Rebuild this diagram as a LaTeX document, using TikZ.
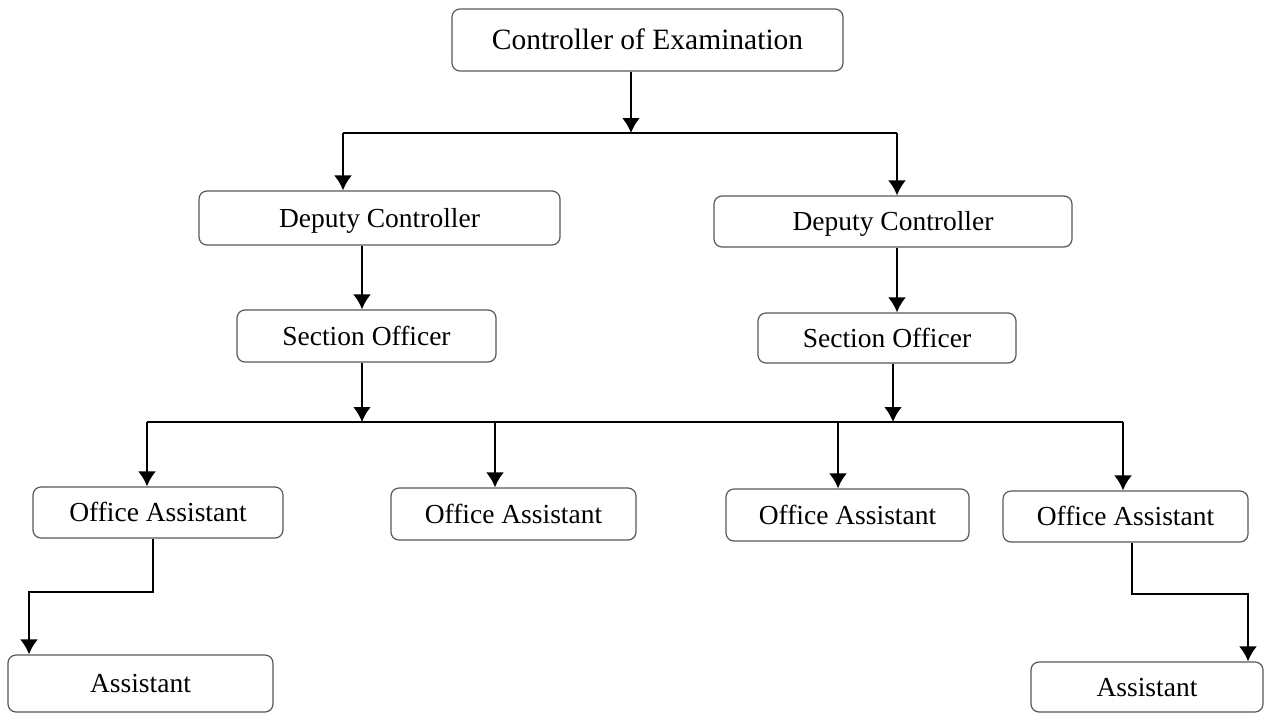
\documentclass[tikz,border=0pt]{standalone}
\usepackage{fontspec}
\setmainfont{Liberation Serif}
\usetikzlibrary{arrows.meta, math}
\tikzset{
  box/.style={draw=black!65, line width=1.2pt, rounded corners=8pt, fill=white,
    inner sep=0pt, text height=23pt, text depth=5pt,
    font=\fontsize{27.5}{30}\selectfont},
  arr/.style={-{Latex[length=15pt,width=18pt]}, line width=2.5pt},
  bar/.style={line width=1.7pt}
}
\begin{document}
\begin{tikzpicture}[x=1pt,y=-1pt]
\tikzmath{
\ytop=133;
\ybot=422;
\yleft=592;
\yright=594;
}
\useasboundingbox[fill=white] (0,0) rectangle (1266,713);

%boxes
\node[box, minimum width=391pt, minimum height=62pt, text height=24.5pt, font=\fontsize{29.5}{32}\selectfont] (coe) at (647.5,40) {Controller of Examination};
\node[box, minimum width=361pt, minimum height=54pt] (dc1) at (379.5,218) {Deputy Controller};
\node[box, minimum width=358pt, minimum height=51pt] (dc2) at (893,221.5) {Deputy Controller};
\node[box, minimum width=259pt, minimum height=52pt] (so1) at (366.5,336) {Section Officer};
\node[box, minimum width=258pt, minimum height=50pt] (so2) at (887,338) {Section Officer};
\node[box, minimum width=250pt, minimum height=51pt] (oa1) at (158,512.5) {Office Assistant};
\node[box, minimum width=245pt, minimum height=52pt] (oa2) at (513.5,514) {Office Assistant};
\node[box, minimum width=243pt, minimum height=52pt] (oa3) at (847.5,515) {Office Assistant};
\node[box, minimum width=245pt, minimum height=51pt] (oa4) at (1125.5,516.5) {Office Assistant};
\node[box, minimum width=265pt, minimum height=57pt] (as1) at (140.5,683.5) {Assistant};
\node[box, minimum width=232pt, minimum height=50pt] (as2) at (1147,687) {Assistant};

%junctions
\coordinate (j0) at (631,\ytop);
\coordinate (t1) at (343,\ytop);
\coordinate (t2) at (897,\ytop);
\coordinate (b1) at (362,\ybot);
\coordinate (b2) at (893,\ybot);
\coordinate (d1) at (147,\ybot);
\coordinate (d2) at (495,\ybot);
\coordinate (d3) at (838,\ybot);
\coordinate (d4) at (1123,\ybot);
\coordinate (e1) at (29,\yleft);
\coordinate (e2) at (1248,\yright);

%top level
\draw[arr] (coe.south -| j0) -- (j0);
\draw[bar] (t1) -- (t2);
\draw[arr] (t1) -- (t1 |- dc1.north);
\draw[arr] (t2) -- (t2 |- dc2.north);

%deputies to section officers
\draw[arr] (dc1.south -| b1) -- (so1.north -| b1);
\draw[arr] (dc2.south -| t2) -- (so2.north -| t2);
\draw[arr] (so1.south -| b1) -- (b1);
\draw[arr] (so2.south -| b2) -- (b2);

%office assistants
\draw[bar] (d1) -- (d4);
\draw[arr] (d1) -- (d1 |- oa1.north);
\draw[arr] (d2) -- (d2 |- oa2.north);
\draw[arr] (d3) -- (d3 |- oa3.north);
\draw[arr] (d4) -- (d4 |- oa4.north);

%assistants
\draw[arr] ([xshift=-5pt]oa1.south) |- (e1) -- (e1 |- as1.north);
\draw[arr] ([xshift=6.5pt]oa4.south) |- (e2) -- (e2 |- as2.north);
\end{tikzpicture}
\end{document}
